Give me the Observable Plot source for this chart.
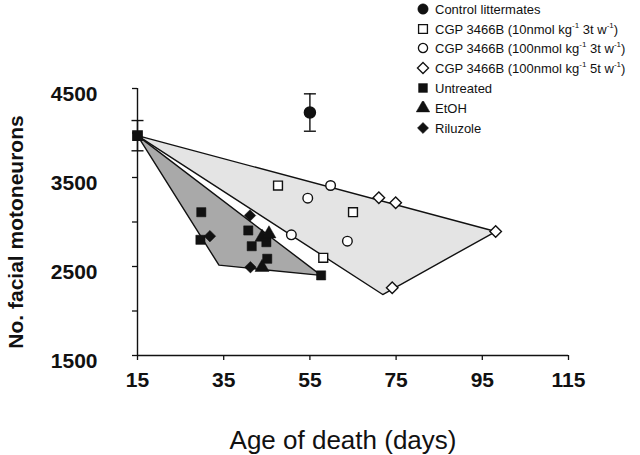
<!DOCTYPE html>
<html><head><meta charset="utf-8">
<script src="https://cdn.jsdelivr.net/npm/d3@7"></script>
<script src="https://cdn.jsdelivr.net/npm/@observablehq/plot@0.6"></script>
<style>
body{margin:0;background:#fff;}
#wrap{position:relative;width:640px;height:455px;font-family:"Liberation Sans",Arial,sans-serif;color:#111;}
.lg{position:absolute;left:0;top:0;width:640px;height:140px;pointer-events:none;}
.row{position:absolute;left:416px;height:18px;display:flex;align-items:center;white-space:nowrap;font-size:13px;}
.row svg{width:14px;height:14px;margin-right:5px;flex:none;}
.row sup{font-size:8px;vertical-align:6px;line-height:0;}
</style></head>
<body><div id="wrap"></div>
<script>
// ---- data ----
const startDay = [15], startMean = [3970], startSd = [170];
const controlDay = [55], controlMean = [4230], controlSd = [210];
const untreatedDay = [29.8, 29.6, 40.7, 41.5, 44.9, 45.1, 57.6];
const untreatedVal = [3110, 2800, 2905, 2728, 2773, 2587, 2400];
const etohDay = [43.9, 45.5, 43.9];
const etohVal = [2829, 2867, 2490];
const riluzoleDay = [31.8, 41.1, 41.2];
const riluzoleVal = [2841, 3073, 2492];
const cgp10Day = [47.6, 58.1, 65.0];
const cgp10Val = [3410, 2598, 3110];
const cgp100Day = [50.7, 54.5, 59.8, 63.7];
const cgp100Val = [2856, 3268, 3410, 2785];
const cgp5tDay = [71.0, 74.9, 98.1, 74.1];
const cgp5tVal = [3272, 3216, 2893, 2261];
const darkHullDay = [15, 33.9, 57.6, 15];
const darkHullVal = [3970, 2515, 2400, 3970];
const lightHullDay = [15, 98.1, 71.9, 15];
const lightHullVal = [3970, 2893, 2185, 3970];
const xTicks = [15, 35, 55, 75, 95, 115];
const yTicks = [1500, 2000, 2500, 3000, 3500, 4000, 4500];
const yLabels = [1500, 2500, 3500, 4500];
const legendLabels = [
  "Control littermates",
  "CGP 3466B (10nmol kg<sup>-1</sup> 3t w<sup>-1</sup>)",
  "CGP 3466B (100nmol kg<sup>-1</sup> 3t w<sup>-1</sup>)",
  "CGP 3466B (100nmol kg<sup>-1</sup> 5t w<sup>-1</sup>)",
  "Untreated",
  "EtOH",
  "Riluzole"
];
const legendSymbols = ["circle", "square", "circle", "diamond", "square", "triangle", "diamond"];
const legendFilled = [true, false, false, false, true, true, true];

// ---- helpers ----
const pts = (xs, ys) => xs.map((x, i) => ({x, y: ys[i]}));
const bars = (xs, m, s) => xs.map((x, i) => ({x, lo: m[i] - s[i], hi: m[i] + s[i], m: m[i]}));
const capSymbol = {draw(ctx, size) { const w = Math.sqrt(size / Math.PI); ctx.moveTo(-w, 0); ctx.lineTo(w, 0); }};
const errs = bars(startDay, startMean, startSd).concat(bars(controlDay, controlMean, controlSd));
const caps = errs.flatMap(d => [{x: d.x, y: d.lo}, {x: d.x, y: d.hi}]);
const ink = "#111";
const font = "Liberation Sans, Arial, sans-serif";

const chart = Plot.plot({
  width: 640, height: 455,
  marginLeft: 137, marginRight: 72, marginTop: 88, marginBottom: 100,
  style: {fontFamily: font, background: "white", color: ink},
  x: {domain: [15, 115]},
  y: {domain: [1500, 4500]},
  marks: [
    Plot.line(pts(lightHullDay, lightHullVal), {x: "x", y: "y", fill: "#e4e4e4", stroke: ink, strokeWidth: 1.4, curve: "linear"}),
    Plot.line(pts(darkHullDay, darkHullVal), {x: "x", y: "y", fill: "#a9a9a9", stroke: ink, strokeWidth: 1.4, curve: "linear"}),
    Plot.ruleY([1500], {stroke: ink, strokeWidth: 1.4}),
    Plot.ruleX([15], {stroke: ink, strokeWidth: 1.4}),
    Plot.axisX({ticks: xTicks, tickSize: 5, tickFormat: () => "", label: null, stroke: ink, strokeWidth: 1.3}),
    Plot.axisY({ticks: yTicks, tickSize: 5, tickFormat: () => "", label: null, stroke: ink, strokeWidth: 1.3}),
    Plot.text(xTicks, {x: d => d, frameAnchor: "bottom", dy: 25, lineAnchor: "middle", textAnchor: "middle", text: d => String(d), fontSize: 21, fontWeight: "bold", fill: ink}),
    Plot.text(yLabels, {y: d => d, frameAnchor: "left", dx: -40, dy: 6, lineAnchor: "middle", textAnchor: "end", text: d => String(d), fontSize: 21, fontWeight: "bold", fill: ink}),
    Plot.ruleX(errs, {x: "x", y1: "lo", y2: "hi", stroke: ink, strokeWidth: 1.4}),
    Plot.dot(caps, {x: "x", y: "y", symbol: capSymbol, r: 6, stroke: ink, strokeWidth: 1.4, fill: "none"}),
    Plot.dot(pts(controlDay, controlMean), {x: "x", y: "y", symbol: "circle", r: 5.5, fill: ink, stroke: ink}),
    Plot.dot(pts(startDay, startMean), {x: "x", y: "y", symbol: "square", r: 5.2, fill: ink, stroke: ink}),
    Plot.dot(pts(untreatedDay, untreatedVal), {x: "x", y: "y", symbol: "square", r: 5.2, fill: ink, stroke: ink, strokeWidth: 0.5}),
    Plot.dot(pts(etohDay, etohVal), {x: "x", y: "y", symbol: "triangle", r: 5.2, fill: ink, stroke: ink, strokeWidth: 0.5}),
    Plot.dot(pts(riluzoleDay, riluzoleVal), {x: "x", y: "y", symbol: "diamond2", r: 5.2, fill: ink, stroke: ink, strokeWidth: 0.5}),
    Plot.dot(pts(cgp10Day, cgp10Val), {x: "x", y: "y", symbol: "square", r: 5, fill: "white", stroke: ink, strokeWidth: 1.4}),
    Plot.dot(pts(cgp100Day, cgp100Val), {x: "x", y: "y", symbol: "circle", r: 4.8, fill: "white", stroke: ink, strokeWidth: 1.4}),
    Plot.dot(pts(cgp5tDay, cgp5tVal), {x: "x", y: "y", symbol: "diamond2", r: 5.2, fill: "white", stroke: ink, strokeWidth: 1.4}),
    Plot.text(["No. facial motoneurons"], {frameAnchor: "left", text: d => d, rotate: -90, textAnchor: "middle", lineAnchor: "middle", dx: -121, dy: 10, fontSize: 21, fontWeight: "bold", fill: ink}),
    Plot.text(["Age of death (days)"], {frameAnchor: "bottom", text: d => d, textAnchor: "middle", lineAnchor: "middle", dx: -10, dy: 85, fontSize: 26, fontWeight: "normal", fill: ink})
  ]
});

const wrap = document.getElementById("wrap");
wrap.appendChild(chart);

// legend overlay
const lg = document.createElement("div");
lg.className = "lg";
const symMap = {circle: d3.symbolCircle, square: d3.symbolSquare, triangle: d3.symbolTriangle, diamond: d3.symbolDiamond2};
const rowCenters = [9, 29, 48, 68, 88, 108, 128];
legendLabels.forEach((label, i) => {
  const row = document.createElement("div");
  row.className = "row";
  row.style.top = (rowCenters[i] - 9) + "px";
  const r = legendSymbols[i] === "circle" ? (legendFilled[i] ? 5.2 : 4.6) : 5;
  const p = d3.symbol(symMap[legendSymbols[i]], Math.PI * r * r)();
  row.innerHTML = `<svg viewBox="-7 -7 14 14"><path d="${p}" fill="${legendFilled[i] ? ink : "white"}" stroke="${ink}" stroke-width="${legendFilled[i] ? 0.5 : 1.3}"/></svg><span>${label}</span>`;
  lg.appendChild(row);
});
wrap.appendChild(lg);
</script>
</body></html>
